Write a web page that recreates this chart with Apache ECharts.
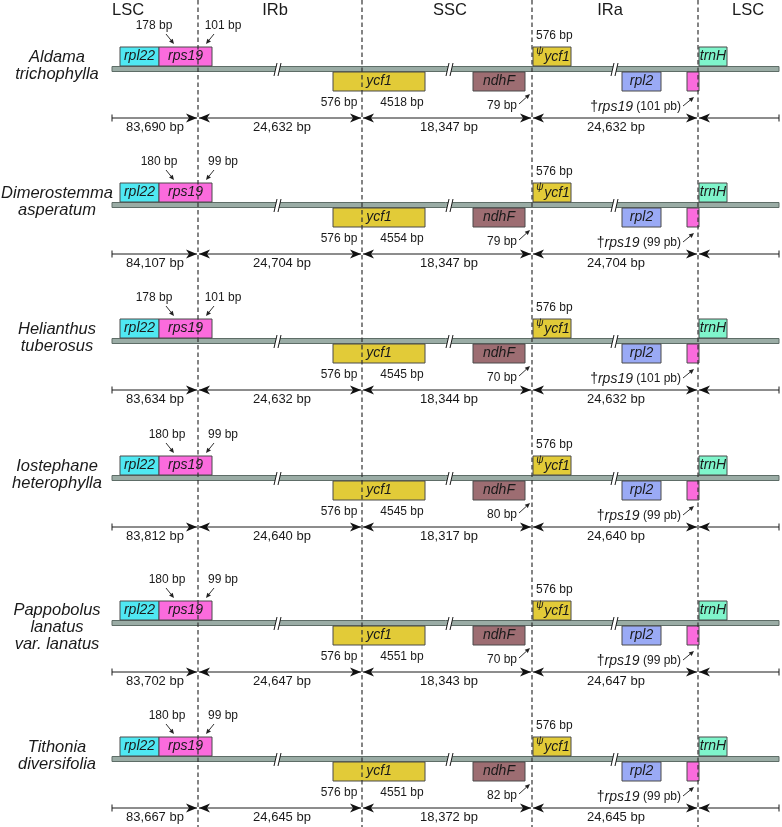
<!DOCTYPE html>
<html><head><meta charset="utf-8">
<script src="https://cdn.jsdelivr.net/npm/echarts@6/dist/echarts.min.js"></script>
<style>html,body{margin:0;padding:0;background:#fff}#c{width:782px;height:827px}</style>
</head><body><div id="c"></div>
<script>
// ---- data ----
const species = [['Aldama','trichophylla'],['Dimerostemma','asperatum'],['Helianthus','tuberosus'],['Iostephane','heterophylla'],['Pappobolus','lanatus','var. lanatus'],['Tithonia','diversifolia']];
const regionNames = ['LSC','IRb','SSC','IRa','LSC'];
const lscLen = [83690,84107,83634,83812,83702,83667];
const irbLen = [24632,24704,24632,24640,24647,24645];
const sscLen = [18347,18347,18344,18317,18343,18372];
const iraLen = [24632,24704,24632,24640,24647,24645];
const rps19InLsc = [178,180,178,180,180,180];
const rps19InIrb = [101,99,101,99,99,99];
const ycf1InIrb = [576,576,576,576,576,576];
const ycf1InSsc = [4518,4554,4545,4545,4551,4551];
const ndhFToIra = [79,79,70,80,70,82];
const psiYcf1Len = [576,576,576,576,576,576];
const rps19InIra = [101,99,101,99,99,99];

// ---- layout (diagram units) ----
const W = 782, H = 827;
const rowY = [69,205,341,478,623,759];
const bounds = [198,362,532,698];
const barX = [112,779];
const breaks = [276,448,613];
const headerX = [128,275,450,610,748];
const lscLblX = [154,159,154,167,167,167];
const nameX = 57;
const genes = [
  {name:'rpl22', x0:120, x1:159, top:true,  color:'#4fe8f2'},
  {name:'rps19', x0:159, x1:212, top:true,  color:'#fb6bdd'},
  {name:'',      x0:533, x1:571, top:true,  color:'#e2cb38', psi:true},
  {name:'trnH',  x0:699, x1:727, top:true,  color:'#7ff5cb'},
  {name:'ycf1',  x0:333, x1:425, top:false, color:'#e2cb38'},
  {name:'ndhF',  x0:473, x1:525, top:false, color:'#9d6d72'},
  {name:'rpl2',  x0:622, x1:661, top:false, color:'#9aaaf5'},
  {name:'',      x0:687, x1:699, top:false, color:'#fb6bdd'}
];
const FONT = '"Liberation Sans", Arial, sans-serif';
const TXT = '#1a1a1a';
const fmt = n => String(n).replace(/\B(?=(\d{3})+(?!\d))/g, ',');

function txt(P, x, y, s, size, opts) {
  const p = P(x, y);
  return {type:'text', style:Object.assign({
    text:s, x:p[0], y:p[1], fill:TXT, fontSize:size, fontFamily:FONT,
    align:'center', verticalAlign:'middle'}, opts||{})};
}
function line(P, x0, y0, x1, y1, w, extra) {
  const a = P(x0, y0), b = P(x1, y1);
  return {type:'line', shape:{x1:a[0], y1:a[1], x2:b[0], y2:b[1]},
    style:Object.assign({stroke:'#1a1a1a', lineWidth:w||1}, extra||{})};
}
function head(P, tx, y, dir) {
  const pts = [[tx,y],[tx-11*dir,y-4.5],[tx-8*dir,y],[tx-11*dir,y+4.5]].map(q=>P(q[0],q[1]));
  return {type:'polygon', shape:{points:pts}, style:{fill:'#111'}};
}
function smallArrow(P, x0, y0, x1, y1) {
  const dx = x1-x0, dy = y1-y0, L = Math.hypot(dx,dy), ux = dx/L, uy = dy/L;
  const bx = x1-ux*5, by = y1-uy*5;
  const pts = [[x1,y1],[bx-uy*2.3,by+ux*2.3],[bx+uy*2.3,by-ux*2.3]].map(q=>P(q[0],q[1]));
  return [line(P, x0, y0, bx, by, 0.9), {type:'polygon', shape:{points:pts}, style:{fill:'#222'}}];
}

function renderRow(params, api) {
  const i = api.value(0);
  const cy = rowY[i];
  const P = (x, y) => api.coord([x, y]);
  const ch = [];
  // species name
  const nm = species[i];
  const off = nm.length === 3 ? [-13,4,21] : [-12,5];
  nm.forEach((s,k)=>ch.push(txt(P, nameX, cy+off[k], s, 16.5, {fontStyle:'italic'})));
  // genome bar
  const a = P(barX[0], cy-2.5), b = P(barX[1], cy+2.5);
  ch.push({type:'rect', shape:{x:a[0], y:a[1], width:b[0]-a[0], height:b[1]-a[1]},
    style:{fill:'#9aaca5', stroke:'#5e6d67', lineWidth:1}});
  // breaks
  breaks.forEach(bx=>{
    const pts = [[bx-2,cy+7],[bx+1,cy-6],[bx+5,cy-6],[bx+2,cy+7]].map(q=>P(q[0],q[1]));
    ch.push({type:'polygon', shape:{points:pts}, style:{fill:'#fff'}});
    ch.push(line(P, bx-2, cy+7, bx+1, cy-6, 1));
    ch.push(line(P, bx+2, cy+7, bx+5, cy-6, 1));
  });
  // gene boxes
  genes.forEach(g=>{
    const y0 = g.top ? cy-22 : cy+3, y1 = g.top ? cy-3 : cy+22;
    const p0 = P(g.x0, y0), p1 = P(g.x1, y1);
    ch.push({type:'rect', shape:{x:p0[0], y:p0[1], width:p1[0]-p0[0], height:p1[1]-p0[1]},
      style:{fill:g.color, stroke:'#4a4a4a', lineWidth:1}});
    if (g.name) ch.push(txt(P, (g.x0+g.x1)/2, (y0+y1)/2, g.name, 14, {fontStyle:'italic'}));
    if (g.psi) {
      ch.push(txt(P, 540, cy-18, 'ψ', 10, {fontStyle:'italic'}));
      ch.push(txt(P, 557, cy-12, 'ycf1', 14, {fontStyle:'italic'}));
    }
  });
  // rps19 at LSC/IRb
  ch.push(txt(P, lscLblX[i], cy-43, rps19InLsc[i]+' bp', 12));
  ch.push(...smallArrow(P, 166, cy-35, 174, cy-25));
  ch.push(txt(P, 223, cy-43, rps19InIrb[i]+' bp', 12));
  ch.push(...smallArrow(P, 214, cy-35, 206, cy-25));
  // ycf1
  ch.push(txt(P, 339, cy+34, ycf1InIrb[i]+' bp', 12));
  ch.push(txt(P, 402, cy+34, ycf1InSsc[i]+' bp', 12));
  // ndhF
  ch.push(txt(P, 517, cy+37, ndhFToIra[i]+' bp', 12, {align:'right'}));
  ch.push(...smallArrow(P, 519, cy+35, 530, cy+25));
  // psi ycf1
  ch.push(txt(P, 536, cy-33, psiYcf1Len[i]+' bp', 12, {align:'left'}));
  // rps19 at IRa/LSC
  const rp = P(681, cy+38);
  ch.push({type:'text', style:{text:'{d|†}{g|rps19}{n| ('+rps19InIra[i]+' pb)}', x:rp[0], y:rp[1],
    align:'right', verticalAlign:'middle', fill:TXT, fontFamily:FONT,
    rich:{d:{fontSize:14, fontFamily:FONT, fill:TXT},
          g:{fontSize:14, fontStyle:'italic', fontFamily:FONT, fill:TXT},
          n:{fontSize:12, fontFamily:FONT, fill:TXT}}}});
  ch.push(...smallArrow(P, 683, cy+37, 694, cy+28));
  // region length arrows
  const ay = cy+49, ly = cy+58;
  ch.push(line(P, barX[0], ay, bounds[0]-1, ay, 1));
  ch.push(line(P, barX[0], ay-3.5, barX[0], ay+3.5, 1));
  ch.push(head(P, bounds[0]-1, ay, 1));
  const segs = [[bounds[0]+1,bounds[1]-1],[bounds[1]+1,bounds[2]-1],[bounds[2]+1,bounds[3]-1]];
  segs.forEach(s=>{
    ch.push(line(P, s[0], ay, s[1], ay, 1));
    ch.push(head(P, s[0], ay, -1));
    ch.push(head(P, s[1], ay, 1));
  });
  ch.push(line(P, bounds[3]+1, ay, barX[1], ay, 1));
  ch.push(head(P, bounds[3]+1, ay, -1));
  ch.push(line(P, barX[1], ay-3.5, barX[1], ay+3.5, 1));
  const lens = [lscLen[i], irbLen[i], sscLen[i], iraLen[i]];
  const mids = [(barX[0]+bounds[0])/2, (bounds[0]+bounds[1])/2+2, (bounds[1]+bounds[2])/2+2, (bounds[2]+bounds[3])/2+1];
  lens.forEach((v,k)=>ch.push(txt(P, mids[k], ly, fmt(v)+' bp', 13)));
  return {type:'group', children:ch};
}

function renderFrame(params, api) {
  const P = (x, y) => api.coord([x, y]);
  const ch = [];
  regionNames.forEach((r,k)=>ch.push(txt(P, headerX[k], 10, r, 16.5)));
  bounds.forEach(bx=>ch.push(line(P, bx, 0, bx, H, 1.2, {stroke:'#333', lineDash:[4.5,3]})));
  return {type:'group', children:ch};
}

const chart = echarts.init(document.getElementById('c'), null, {renderer:'canvas'});
chart.setOption({
  backgroundColor:'#fff',
  animation:false,
  grid:{left:0, right:0, top:0, bottom:0},
  xAxis:{type:'value', min:0, max:W, show:false},
  yAxis:{type:'value', min:0, max:H, inverse:true, show:false},
  series:[
    {type:'custom', renderItem:renderRow, data:species.map((s,i)=>[i]), silent:true, z:2},
    {type:'custom', renderItem:renderFrame, data:[[0]], silent:true, z:5}
  ]
});
</script></body></html>
